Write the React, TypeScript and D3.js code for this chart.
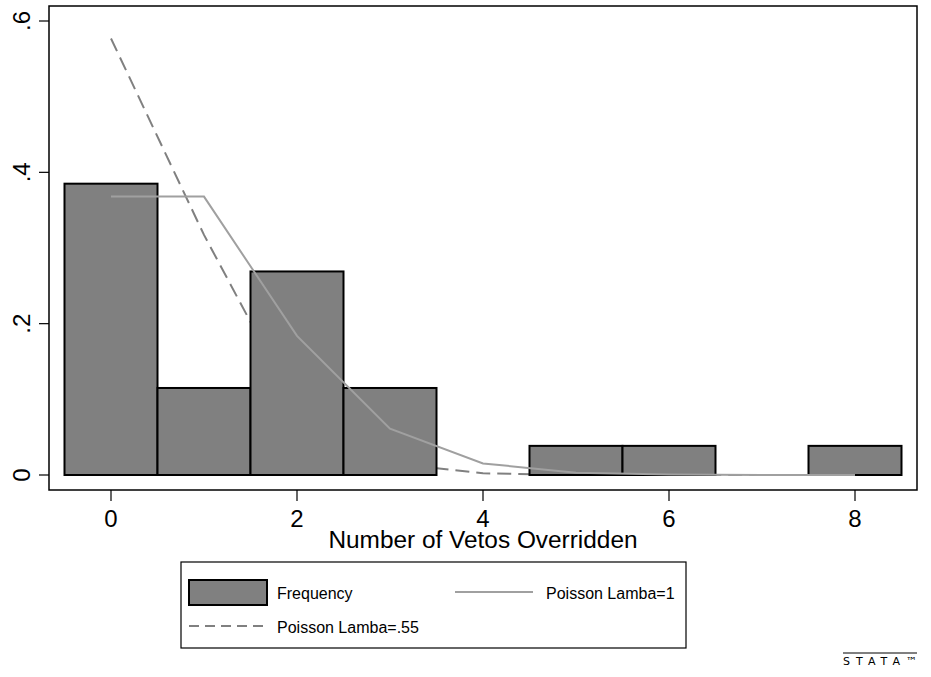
import React from 'react'
import * as d3 from 'd3'

const width = 931
const height = 677
const frame = { left: 49, right: 917, top: 6, bottom: 490 }

// number of vetos overridden (bins) and observed share
const counts = [0, 1, 2, 3, 4, 5, 6, 7, 8]
const frequency = [0.385, 0.115, 0.269, 0.115, 0, 0.0385, 0.0385, 0, 0.0385]
const poissonOne = [0.3679, 0.3679, 0.1839, 0.0613, 0.0153, 0.0031, 0.0005, 0.0001, 0.0]
const poissonPt55 = [0.5769, 0.3173, 0.0873, 0.016, 0.0022, 0.0002, 0.0, 0.0, 0.0]
const xTicks = [0, 2, 4, 6, 8]
const yTicks = [0, 0.2, 0.4, 0.6]
const yTickLabels = ['0', '.2', '.4', '.6']

const font = 'Liberation Sans, Arial, sans-serif'
const barFill = '#808080'
const solidColor = '#a0a0a0'
const dashColor = '#808080'

const App = () => {
    const xScale = d3.scaleLinear().domain([0, 8]).range([111, 855])
    const yScale = d3.scaleLinear().domain([0, 0.6]).range([475, 21])

    const line = d3
        .line<number>()
        .x((d, i) => xScale(counts[i]))
        .y((d) => yScale(d))

    const bars = counts
        .map((c, i) => ({ c, v: frequency[i] }))
        .filter((d) => d.v > 0)

    return (
        <svg
            width={width}
            height={height}
            style={{ position: 'absolute', left: 0, top: 0, background: '#fff' }}
            fontFamily={font}
        >
            {/* lambda .55 sits behind the bars */}
            <path
                d={line(poissonPt55) || ''}
                fill="none"
                stroke={dashColor}
                strokeWidth={2}
                strokeDasharray="14,7"
            />
            {bars.map((d) => (
                <rect
                    key={d.c}
                    x={xScale(d.c - 0.5)}
                    y={yScale(d.v)}
                    width={xScale(d.c + 0.5) - xScale(d.c - 0.5)}
                    height={yScale(0) - yScale(d.v)}
                    fill={barFill}
                    stroke="#000"
                    strokeWidth={2}
                />
            ))}
            <path
                d={line(poissonOne) || ''}
                fill="none"
                stroke={solidColor}
                strokeWidth={2}
            />

            {/* plot frame */}
            <rect
                x={frame.left}
                y={frame.top}
                width={frame.right - frame.left}
                height={frame.bottom - frame.top}
                fill="none"
                stroke="#000"
                strokeWidth={1.5}
            />

            {/* y axis */}
            {yTicks.map((t, i) => (
                <g key={t}>
                    <line
                        x1={39}
                        x2={frame.left}
                        y1={yScale(t)}
                        y2={yScale(t)}
                        stroke="#000"
                        strokeWidth={1.2}
                    />
                    <text
                        transform={`translate(30,${yScale(t)}) rotate(-90)`}
                        textAnchor="middle"
                        fontSize={24}
                    >
                        {yTickLabels[i]}
                    </text>
                </g>
            ))}

            {/* x axis */}
            {xTicks.map((t) => (
                <g key={t}>
                    <line
                        x1={xScale(t)}
                        x2={xScale(t)}
                        y1={frame.bottom}
                        y2={501}
                        stroke="#000"
                        strokeWidth={1.2}
                    />
                    <text x={xScale(t)} y={527} textAnchor="middle" fontSize={24}>
                        {t}
                    </text>
                </g>
            ))}
            <text x={483} y={548} textAnchor="middle" fontSize={24.4}>
                Number of Vetos Overridden
            </text>

            {/* legend */}
            <g>
                <rect x={181} y={562} width={505} height={86} fill="#fff" stroke="#000" strokeWidth={1.2} />
                <rect x={189} y={580} width={78} height={25} fill={barFill} stroke="#000" strokeWidth={2} />
                <text x={277} y={599} fontSize={16}>
                    Frequency
                </text>
                <line x1={455} x2={533} y1={592} y2={592} stroke={solidColor} strokeWidth={2} />
                <text x={546} y={599} fontSize={16}>
                    Poisson Lamba=1
                </text>
                <line
                    x1={189}
                    x2={267}
                    y1={626}
                    y2={626}
                    stroke={dashColor}
                    strokeWidth={2}
                    strokeDasharray="10,6"
                />
                <text x={277} y={633} fontSize={16}>
                    Poisson Lamba=.55
                </text>
            </g>

            {/* stata mark */}
            <line x1={843} x2={917} y1={653} y2={653} stroke="#000" strokeWidth={1} />
            <text
                x={843}
                y={665}
                fontSize={11}
                fontFamily="DejaVu Sans, sans-serif"
                textLength={74}
                lengthAdjust="spacing"
            >
                STATA™
            </text>
        </svg>
    )
}

export default App
